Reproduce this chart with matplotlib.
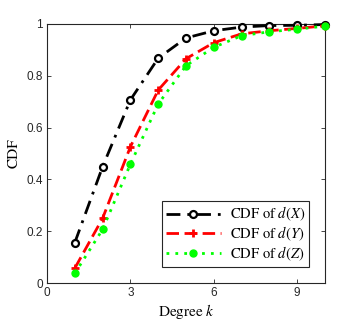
import matplotlib
matplotlib.use("Agg")
import matplotlib.pyplot as plt

k = [1, 2, 3, 4, 5, 6, 7, 8, 9, 10]
cdf_x = [0.156, 0.449, 0.707, 0.868, 0.946, 0.974, 0.988, 0.994, 0.995, 0.998]
cdf_y = [0.057, 0.250, 0.526, 0.745, 0.866, 0.928, 0.962, 0.974, 0.983, 0.993]
cdf_z = [0.037, 0.207, 0.459, 0.691, 0.839, 0.910, 0.955, 0.970, 0.980, 0.992]
labels = [r"CDF of $d(X)$", r"CDF of $d(Y)$", r"CDF of $d(Z)$"]
xticks = [0, 3, 6, 9]
yticks = [0, 0.2, 0.4, 0.6, 0.8, 1]
yticklabels = ["0", "0.2", "0.4", "0.6", "0.8", "1"]

plt.rcParams["mathtext.fontset"] = "stix"

fig = plt.figure(figsize=(3.6, 3.2), dpi=100)
ax = fig.add_axes([0.1306, 0.1156, 0.7722, 0.8094])

ax.plot(k, cdf_x, color="black", linestyle=(0, (5, 2.5, 1, 2.5)), linewidth=2,
        marker="o", markersize=5, markerfacecolor="white", markeredgewidth=1.6,
        markeredgecolor="black", label=labels[0], clip_on=False, zorder=3)
ax.plot(k, cdf_y, color="red", linestyle=(0, (4.5, 2)), linewidth=2,
        marker="+", markersize=6, markeredgewidth=2,
        label=labels[1], clip_on=False, zorder=3)
ax.plot(k, cdf_z, color="#00ff00", linestyle=(0, (1, 2.2)), linewidth=2,
        marker="o", markersize=5, markerfacecolor="#00ff00",
        markeredgecolor="#00ff00", label=labels[2], clip_on=False, zorder=3)

ax.set_xlim(0, 10)
ax.set_ylim(0, 1)
ax.set_xticks(xticks)
ax.set_yticks(yticks)
ax.set_yticklabels(yticklabels)
ax.tick_params(direction="in", top=True, right=True, length=3, width=0.6,
               labelsize=8.5, colors="#262626", pad=3)
for lbl in ax.get_xticklabels() + ax.get_yticklabels():
    lbl.set_fontfamily("Liberation Sans")
for s in ax.spines.values():
    s.set_color("#262626")
    s.set_linewidth(0.8)

ax.set_xlabel(r"Degree $k$", fontsize=11, family="STIXGeneral", labelpad=2)
ax.set_ylabel("CDF", fontsize=11, family="STIXGeneral", labelpad=4)

leg = ax.legend(loc="lower right", prop={"family": "STIXGeneral", "size": 10.5},
                fancybox=False, edgecolor="#262626", framealpha=1,
                handlelength=3.8, handletextpad=0.6, borderpad=0.25,
                labelspacing=0.1, bbox_to_anchor=(0.968, 0.035))
leg.get_frame().set_linewidth(0.8)

fig.savefig("out.png", dpi=100)
